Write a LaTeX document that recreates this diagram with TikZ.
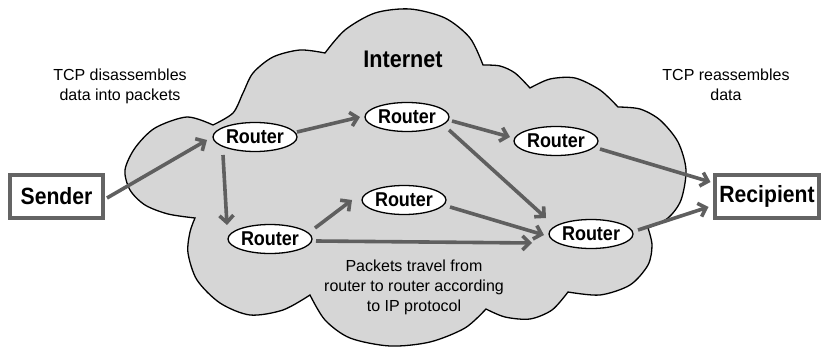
\documentclass[tikz,border=0pt]{standalone}
\usepackage{fontspec}
\setmainfont{Liberation Sans}
\newfontfamily\condf[FakeStretch=0.9]{Liberation Sans}
\usetikzlibrary{arrows.meta,shapes.geometric}
\definecolor{cloudfill}{RGB}{214,214,214}
\definecolor{arrowgray}{RGB}{95,95,95}
\definecolor{boxgray}{RGB}{100,100,100}
\begin{document}
\begin{tikzpicture}[x=1pt,y=-1pt,
  router/.style={ellipse,draw=black,line width=1.3pt,fill=white,minimum width=84pt,minimum height=29pt,inner sep=0pt,font=\condf\bfseries\fontsize{20}{22}\selectfont},
  endbox/.style={draw=boxgray,line width=4pt,fill=white,minimum height=43pt,inner sep=0pt,font=\condf\bfseries\fontsize{23.5}{26}\selectfont},
  link/.style={draw=arrowgray,line width=3.6pt,-{Straight Barb[length=7pt,width=14pt]}},
  note/.style={align=center,font=\fontsize{16}{20}\selectfont},
  cloudline/.style={draw=black,line width=1.3pt,fill=cloudfill,line join=miter}
]
\useasboundingbox (0,0) rectangle (822,350);
% cloud
\path[cloudline] (213,125)
  -- plot[smooth] coordinates {(213,125) (187,117) (155,128) (135,148) (125,170) (130,190) (145,205) (168,214) (195,218)}
  -- plot[smooth] coordinates {(195,218) (190,232) (188,253) (197,280) (220,303) (250,315) (283,310) (310,295)}
  -- plot[smooth] coordinates {(310,295) (325,320) (350,338) (390,346) (430,342) (465,328) (486,309)}
  -- plot[smooth] coordinates {(486,309) (505,317) (530,319) (552,310) (568,292)}
  -- plot[smooth] coordinates {(568,292) (600,295) (630,285) (648,265) (652,245) (648,228)}
  -- plot[smooth] coordinates {(648,228) (668,218) (681,200) (686,170) (678,142) (660,120) (640,109) (618,107)}
  -- plot[smooth] coordinates {(618,107) (600,90) (575,78) (550,79) (530,88)}
  -- plot[smooth] coordinates {(530,88) (515,73) (500,66) (483,65)}
  -- plot[smooth] coordinates {(483,65) (470,38) (445,18) (410,9) (375,13) (345,30) (325,53)}
  -- plot[smooth] coordinates {(325,53) (300,50) (273,57) (253,73) (243,93) (233,113) (213,125)}
  -- cycle;

\node[font=\condf\bfseries\fontsize{24}{27}\selectfont] (inet) at (403,59) {Internet};
\node[note] (tcpd) at (120,86) {TCP disassembles\\data into packets};
\node[note] (tcpr) at (726,85) {TCP reassembles\\data};
\node[note] (ipnote) at (414,287) {Packets travel from\\router to router according\\to IP protocol};

\node[endbox,minimum width=93pt] (S) at (56.5,196.5) {Sender};
\node[endbox,minimum width=104pt] (Rec) at (767,196.5) {Recipient};

\node[router] (R1) at (255,137) {Router};
\node[router] (R2) at (407,117) {Router};
\node[router] (R3) at (556,141) {Router};
\node[router] (R4) at (404,200) {Router};
\node[router] (R5) at (270,239) {Router};
\node[router] (R6) at (591,234) {Router};

\draw[link] ([shift={(50.5,1.5)}]S.center) -- ([shift={(-48,3)}]R1.center);
\draw[link] ([shift={(42,-5)}]R1.center) -- ([shift={(-47,0)}]R2.center);
\draw[link] ([shift={(-32,18)}]R1.center) -- ([shift={(-43,-14)}]R5.center);
\draw[link] ([shift={(45,4)}]R2.center) -- ([shift={(-46,-4)}]R3.center);
\draw[link] ([shift={(42,13)}]R2.center) -- ([shift={(-45,-16)}]R6.center);
\draw[link] ([shift={(44,8)}]R3.center) -- ([shift={(-56.5,-14.5)}]Rec.center);
\draw[link] ([shift={(46,7)}]R4.center) -- ([shift={(-47,1)}]R6.center);
\draw[link] ([shift={(45,-11)}]R5.center) -- ([shift={(-52,0)}]R4.center);
\draw[link] ([shift={(46,2)}]R5.center) -- ([shift={(-59,9)}]R6.center);
\draw[link] ([shift={(47,-4)}]R6.center) -- ([shift={(-58.5,10.5)}]Rec.center);
\end{tikzpicture}
\end{document}
